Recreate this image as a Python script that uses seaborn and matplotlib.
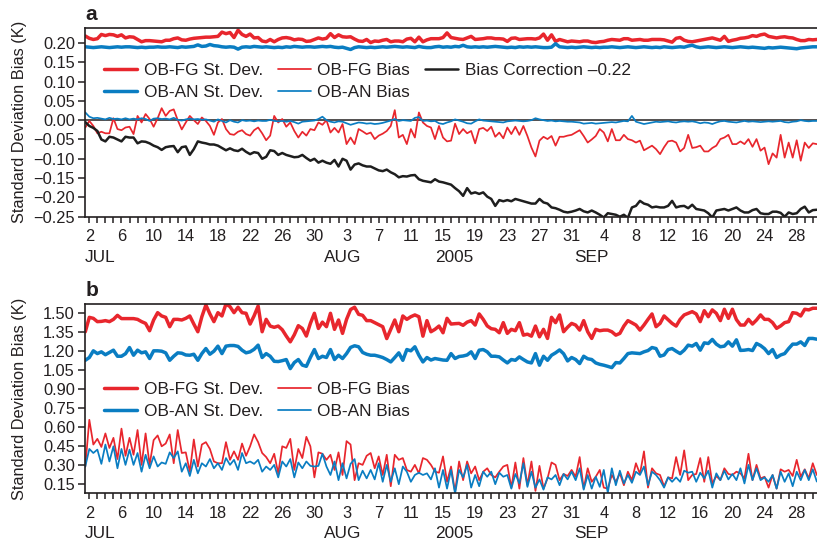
import numpy as np
import pandas as pd
import matplotlib
matplotlib.use("Agg")
import matplotlib.pyplot as plt
import matplotlib.dates as mdates
from matplotlib.ticker import FixedLocator, FuncFormatter
import seaborn as sns

# ---------------- data (12-hourly, starting 2005-07-01 12Z) ----------------
start_time = "2005-07-01 12:00"
end_time = "2005-09-30 12:00"

# panel a
fg_std_a = [
    0.218, 0.212, 0.209, 0.211, 0.222, 0.219, 0.222, 0.221, 0.217, 0.221,
    0.213, 0.216, 0.215, 0.209, 0.203, 0.206, 0.206, 0.205, 0.204, 0.203,
    0.207, 0.207, 0.211, 0.213, 0.208, 0.207, 0.210, 0.212, 0.213, 0.214,
    0.215, 0.215, 0.216, 0.217, 0.228, 0.224, 0.227, 0.214, 0.233, 0.222,
    0.217, 0.223, 0.213, 0.214, 0.205, 0.203, 0.209, 0.203, 0.209, 0.213,
    0.214, 0.212, 0.208, 0.210, 0.209, 0.204, 0.205, 0.209, 0.213, 0.210,
    0.212, 0.224, 0.214, 0.221, 0.216, 0.215, 0.216, 0.210, 0.205, 0.204,
    0.209, 0.201, 0.205, 0.204, 0.207, 0.209, 0.203, 0.205, 0.205, 0.203,
    0.210, 0.212, 0.203, 0.215, 0.203, 0.208, 0.211, 0.211, 0.211, 0.214,
    0.226, 0.214, 0.212, 0.210, 0.209, 0.213, 0.217, 0.209, 0.210, 0.211,
    0.213, 0.213, 0.211, 0.211, 0.210, 0.204, 0.212, 0.213, 0.209, 0.210,
    0.211, 0.211, 0.210, 0.213, 0.223, 0.207, 0.221, 0.204, 0.209, 0.206,
    0.203, 0.205, 0.204, 0.203, 0.205, 0.205, 0.202, 0.201, 0.203, 0.204,
    0.207, 0.209, 0.208, 0.207, 0.211, 0.211, 0.207, 0.208, 0.209, 0.207,
    0.207, 0.209, 0.209, 0.209, 0.208, 0.205, 0.202, 0.212, 0.214, 0.207,
    0.204, 0.203, 0.205, 0.207, 0.209, 0.211, 0.213, 0.210, 0.207, 0.217,
    0.204, 0.207, 0.209, 0.212, 0.213, 0.215, 0.219, 0.217, 0.221, 0.223,
    0.217, 0.215, 0.213, 0.215, 0.216, 0.214, 0.213, 0.209, 0.206, 0.206,
    0.209, 0.208, 0.209,
]
an_std_a = [
    0.190, 0.189, 0.188, 0.189, 0.190, 0.189, 0.188, 0.189, 0.190, 0.189,
    0.190, 0.190, 0.189, 0.188, 0.189, 0.188, 0.189, 0.189, 0.190, 0.189,
    0.189, 0.190, 0.189, 0.188, 0.190, 0.189, 0.190, 0.191, 0.195, 0.191,
    0.192, 0.196, 0.193, 0.192, 0.190, 0.189, 0.190, 0.189, 0.184, 0.189,
    0.190, 0.189, 0.191, 0.190, 0.189, 0.190, 0.189, 0.188, 0.189, 0.188,
    0.190, 0.189, 0.191, 0.190, 0.189, 0.190, 0.190, 0.189, 0.190, 0.191,
    0.190, 0.191, 0.189, 0.188, 0.189, 0.186, 0.183, 0.188, 0.190, 0.189,
    0.188, 0.189, 0.188, 0.189, 0.190, 0.189, 0.190, 0.191, 0.190, 0.189,
    0.190, 0.189, 0.188, 0.191, 0.189, 0.188, 0.188, 0.190, 0.191, 0.189,
    0.190, 0.189, 0.191, 0.190, 0.194, 0.190, 0.189, 0.190, 0.189, 0.190,
    0.189, 0.190, 0.191, 0.190, 0.189, 0.188, 0.189, 0.188, 0.190, 0.189,
    0.190, 0.189, 0.190, 0.189, 0.188, 0.188, 0.189, 0.198, 0.190, 0.189,
    0.188, 0.189, 0.188, 0.189, 0.190, 0.189, 0.188, 0.189, 0.188, 0.189,
    0.189, 0.190, 0.189, 0.188, 0.189, 0.190, 0.189, 0.188, 0.189, 0.190,
    0.189, 0.188, 0.189, 0.188, 0.190, 0.189, 0.188, 0.189, 0.190, 0.189,
    0.192, 0.194, 0.190, 0.188, 0.189, 0.190, 0.189, 0.188, 0.189, 0.190,
    0.189, 0.188, 0.189, 0.190, 0.189, 0.188, 0.189, 0.188, 0.187, 0.186,
    0.188, 0.187, 0.188, 0.189, 0.188, 0.187, 0.186, 0.185, 0.187, 0.188,
    0.189, 0.190, 0.190,
]
fg_bias_a = [
    -0.019, -0.002, -0.015, -0.034, -0.030, -0.034, -0.034, 0.005, -0.023, -0.026,
    -0.019, -0.017, -0.036, 0.011, -0.006, 0.016, 0.003, -0.017, 0.005, 0.031,
    0.011, 0.024, 0.028, 0.000, -0.024, -0.006, 0.011, 0.000, -0.010, 0.007,
    -0.002, -0.015, -0.038, -0.006, 0.003, -0.023, -0.036, -0.038, -0.030, -0.026,
    -0.036, -0.040, -0.026, -0.019, -0.034, -0.052, -0.040, 0.011, -0.006, 0.003,
    -0.017, -0.006, -0.028, -0.045, -0.030, -0.040, -0.023, -0.026, -0.006, -0.012,
    0.000, -0.032, -0.020, -0.032, -0.010, -0.062, -0.045, -0.062, -0.023, -0.029,
    -0.036, -0.032, -0.049, -0.040, -0.035, -0.028, -0.015, 0.026, -0.045, -0.038,
    -0.062, -0.023, -0.045, 0.020, -0.006, -0.015, -0.019, -0.049, -0.015, -0.045,
    -0.055, -0.053, -0.009, -0.036, -0.023, -0.034, -0.028, -0.060, -0.023, -0.020,
    -0.028, -0.017, -0.043, -0.032, -0.047, -0.019, -0.036, -0.017, -0.038, -0.015,
    -0.041, -0.071, -0.094, -0.053, -0.043, -0.049, -0.041, -0.066, -0.043, -0.043,
    -0.040, -0.038, -0.032, -0.026, -0.041, -0.058, -0.050, -0.041, -0.023, -0.032,
    -0.055, -0.023, -0.052, -0.052, -0.038, -0.049, -0.052, -0.058, -0.053, -0.078,
    -0.072, -0.066, -0.075, -0.088, -0.070, -0.055, -0.053, -0.058, -0.081, -0.072,
    -0.038, -0.072, -0.070, -0.066, -0.081, -0.081, -0.072, -0.066, -0.049, -0.045,
    -0.038, -0.062, -0.062, -0.055, -0.062, -0.049, -0.069, -0.049, -0.079, -0.071,
    -0.114, -0.086, -0.097, -0.038, -0.097, -0.058, -0.097, -0.052, -0.105, -0.058,
    -0.072, -0.060, -0.062,
]
an_bias_a = [
    0.020, 0.009, 0.005, 0.006, 0.004, 0.002, 0.006, 0.003, 0.004, 0.002,
    0.005, 0.002, 0.004, 0.002, 0.005, 0.003, -0.002, 0.004, 0.005, 0.003,
    0.004, 0.002, 0.006, 0.001, -0.001, 0.002, 0.004, 0.002, 0.003, 0.001,
    0.002, -0.001, -0.004, 0.002, -0.002, -0.006, 0.000, -0.004, -0.006, 0.000,
    -0.002, -0.001, -0.003, -0.001, -0.002, -0.002, 0.001, -0.002, -0.003, -0.002,
    -0.004, -0.002, -0.005, -0.009, -0.004, -0.003, -0.002, -0.001, 0.003, 0.009,
    0.000, -0.004, -0.006, -0.003, -0.004, -0.008, -0.012, -0.009, -0.006, -0.007,
    -0.009, -0.008, -0.010, -0.009, -0.007, -0.004, -0.001, 0.003, -0.002, 0.000,
    -0.001, -0.002, 0.006, 0.008, -0.002, -0.001, -0.003, -0.002, -0.008, -0.010,
    -0.006, -0.003, 0.002, -0.001, -0.004, -0.008, -0.009, -0.003, 0.002, -0.001,
    -0.002, -0.003, -0.004, -0.005, -0.006, -0.003, -0.002, -0.001, -0.002, -0.003,
    -0.002, 0.000, 0.005, 0.002, 0.000, -0.002, -0.001, -0.003, -0.002, -0.003,
    -0.004, -0.004, -0.005, -0.006, -0.009, -0.008, -0.007, -0.009, -0.008, -0.007,
    -0.006, -0.005, -0.006, -0.004, -0.002, -0.003, 0.011, -0.004, -0.007, -0.010,
    -0.008, -0.006, -0.004, -0.005, -0.004, -0.003, -0.005, -0.006, -0.004, -0.003,
    -0.004, -0.003, -0.005, -0.008, -0.006, -0.007, -0.010, -0.006, -0.003, -0.002,
    -0.004, -0.005, -0.006, -0.004, -0.002, -0.004, -0.003, -0.004, -0.005, -0.004,
    -0.003, -0.004, -0.003, -0.002, -0.005, -0.006, -0.004, -0.003, 0.000, -0.002,
    -0.003, -0.002, -0.002,
]
# bias correction already shifted by -0.22 (as labelled)
bias_corr_a = [
    -0.005, -0.015, -0.020, -0.028, -0.050, -0.055, -0.043, -0.045, -0.050, -0.055,
    -0.043, -0.045, -0.045, -0.060, -0.055, -0.056, -0.060, -0.066, -0.070, -0.077,
    -0.070, -0.068, -0.067, -0.083, -0.070, -0.068, -0.090, -0.075, -0.055, -0.058,
    -0.060, -0.063, -0.063, -0.066, -0.072, -0.078, -0.073, -0.078, -0.080, -0.074,
    -0.082, -0.088, -0.083, -0.085, -0.100, -0.095, -0.078, -0.080, -0.090, -0.085,
    -0.090, -0.093, -0.096, -0.095, -0.090, -0.098, -0.105, -0.100, -0.110, -0.105,
    -0.110, -0.113, -0.103, -0.120, -0.100, -0.105, -0.128, -0.115, -0.112, -0.117,
    -0.120, -0.120, -0.125, -0.130, -0.132, -0.128, -0.135, -0.140, -0.148, -0.145,
    -0.146, -0.143, -0.142, -0.153, -0.157, -0.159, -0.161, -0.153, -0.159, -0.161,
    -0.164, -0.167, -0.176, -0.184, -0.196, -0.176, -0.190, -0.187, -0.191, -0.187,
    -0.198, -0.204, -0.222, -0.207, -0.210, -0.207, -0.210, -0.204, -0.207, -0.210,
    -0.213, -0.216, -0.216, -0.204, -0.213, -0.216, -0.226, -0.228, -0.232, -0.237,
    -0.239, -0.237, -0.234, -0.230, -0.236, -0.239, -0.234, -0.239, -0.245, -0.252,
    -0.241, -0.243, -0.245, -0.250, -0.245, -0.253, -0.226, -0.222, -0.209, -0.216,
    -0.219, -0.226, -0.224, -0.226, -0.226, -0.222, -0.209, -0.226, -0.223, -0.222,
    -0.228, -0.219, -0.230, -0.232, -0.234, -0.241, -0.252, -0.234, -0.232, -0.230,
    -0.234, -0.230, -0.226, -0.234, -0.239, -0.239, -0.233, -0.230, -0.241, -0.243,
    -0.243, -0.237, -0.237, -0.240, -0.250, -0.239, -0.243, -0.241, -0.230, -0.224,
    -0.239, -0.233, -0.232,
]

# panel b
fg_std_b = [
    1.354, 1.468, 1.460, 1.434, 1.436, 1.442, 1.434, 1.452, 1.484, 1.458,
    1.458, 1.458, 1.458, 1.452, 1.434, 1.420, 1.362, 1.447, 1.505, 1.479,
    1.468, 1.394, 1.452, 1.452, 1.447, 1.460, 1.479, 1.415, 1.354, 1.473,
    1.566, 1.495, 1.434, 1.505, 1.479, 1.574, 1.553, 1.505, 1.548, 1.505,
    1.500, 1.415, 1.480, 1.558, 1.354, 1.452, 1.399, 1.389, 1.399, 1.370,
    1.320, 1.274, 1.330, 1.402, 1.380, 1.320, 1.420, 1.500, 1.380, 1.430,
    1.394, 1.500, 1.373, 1.447, 1.341, 1.452, 1.530, 1.548, 1.492, 1.484,
    1.442, 1.442, 1.426, 1.410, 1.394, 1.300, 1.373, 1.447, 1.354, 1.479,
    1.452, 1.473, 1.487, 1.473, 1.319, 1.442, 1.354, 1.373, 1.399, 1.346,
    1.460, 1.415, 1.418, 1.420, 1.405, 1.430, 1.442, 1.407, 1.495, 1.452,
    1.400, 1.378, 1.373, 1.346, 1.426, 1.341, 1.373, 1.362, 1.426, 1.327,
    1.335, 1.319, 1.399, 1.314, 1.373, 1.301, 1.468, 1.426, 1.487, 1.354,
    1.390, 1.420, 1.407, 1.367, 1.442, 1.354, 1.301, 1.373, 1.362, 1.367,
    1.367, 1.354, 1.327, 1.341, 1.399, 1.442, 1.425, 1.407, 1.367, 1.407,
    1.452, 1.495, 1.394, 1.420, 1.479, 1.450, 1.420, 1.399, 1.452, 1.487,
    1.500, 1.513, 1.495, 1.434, 1.521, 1.473, 1.527, 1.500, 1.442, 1.532,
    1.460, 1.532, 1.450, 1.407, 1.407, 1.452, 1.415, 1.447, 1.487, 1.452,
    1.452, 1.426, 1.381, 1.400, 1.426, 1.434, 1.505, 1.500, 1.479, 1.532,
    1.527, 1.540, 1.540,
]
an_std_b = [
    1.128, 1.150, 1.203, 1.181, 1.195, 1.172, 1.190, 1.208, 1.160, 1.160,
    1.180, 1.229, 1.168, 1.208, 1.187, 1.195, 1.142, 1.203, 1.203, 1.200,
    1.187, 1.128, 1.160, 1.187, 1.184, 1.170, 1.168, 1.176, 1.128, 1.181,
    1.221, 1.176, 1.200, 1.240, 1.181, 1.240, 1.245, 1.245, 1.238, 1.208,
    1.187, 1.195, 1.215, 1.248, 1.150, 1.181, 1.160, 1.120, 1.118, 1.125,
    1.134, 1.062, 1.110, 1.134, 1.090, 1.080, 1.150, 1.213, 1.142, 1.160,
    1.150, 1.213, 1.134, 1.168, 1.142, 1.181, 1.230, 1.243, 1.235, 1.190,
    1.176, 1.168, 1.168, 1.160, 1.150, 1.134, 1.115, 1.150, 1.187, 1.128,
    1.213, 1.203, 1.235, 1.168, 1.115, 1.150, 1.130, 1.142, 1.136, 1.130,
    1.128, 1.181, 1.142, 1.158, 1.162, 1.170, 1.195, 1.142, 1.208, 1.213,
    1.195, 1.160, 1.160, 1.155, 1.130, 1.107, 1.134, 1.128, 1.155, 1.134,
    1.115, 1.107, 1.181, 1.089, 1.160, 1.128, 1.168, 1.187, 1.210, 1.180,
    1.123, 1.150, 1.134, 1.102, 1.160, 1.140, 1.134, 1.107, 1.096, 1.089,
    1.080, 1.070, 1.110, 1.107, 1.142, 1.181, 1.187, 1.184, 1.181, 1.195,
    1.205, 1.229, 1.221, 1.160, 1.170, 1.213, 1.221, 1.200, 1.181, 1.208,
    1.248, 1.240, 1.261, 1.208, 1.266, 1.261, 1.293, 1.256, 1.235, 1.240,
    1.274, 1.240, 1.290, 1.206, 1.208, 1.213, 1.205, 1.261, 1.245, 1.220,
    1.181, 1.213, 1.150, 1.170, 1.181, 1.221, 1.256, 1.256, 1.274, 1.245,
    1.301, 1.301, 1.295,
]
fg_bias_b = [
    0.287, 0.657, 0.461, 0.506, 0.442, 0.549, 0.434, 0.514, 0.346, 0.587,
    0.372, 0.514, 0.380, 0.576, 0.300, 0.549, 0.300, 0.496, 0.533, 0.447,
    0.469, 0.541, 0.313, 0.576, 0.394, 0.399, 0.246, 0.501, 0.287, 0.461,
    0.480, 0.426, 0.327, 0.313, 0.313, 0.480, 0.340, 0.407, 0.340, 0.469,
    0.372, 0.447, 0.541, 0.480, 0.394, 0.362, 0.313, 0.388, 0.233, 0.447,
    0.434, 0.506, 0.260, 0.426, 0.354, 0.522, 0.447, 0.201, 0.399, 0.388,
    0.340, 0.380, 0.260, 0.399, 0.220, 0.488, 0.461, 0.179, 0.313, 0.300,
    0.372, 0.394, 0.273, 0.367, 0.220, 0.380, 0.131, 0.380, 0.340, 0.354,
    0.260, 0.246, 0.300, 0.233, 0.354, 0.340, 0.300, 0.246, 0.238, 0.367,
    0.166, 0.287, 0.086, 0.327, 0.179, 0.327, 0.233, 0.287, 0.179, 0.246,
    0.273, 0.220, 0.201, 0.246, 0.287, 0.300, 0.120, 0.319, 0.112, 0.354,
    0.139, 0.327, 0.094, 0.292, 0.112, 0.193, 0.319, 0.300, 0.179, 0.228,
    0.212, 0.260, 0.206, 0.362, 0.112, 0.273, 0.166, 0.206, 0.260, 0.120,
    0.112, 0.220, 0.166, 0.233, 0.139, 0.246, 0.179, 0.313, 0.228, 0.407,
    0.120, 0.273, 0.233, 0.220, 0.131, 0.201, 0.193, 0.362, 0.220, 0.415,
    0.179, 0.220, 0.228, 0.354, 0.166, 0.362, 0.153, 0.212, 0.179, 0.273,
    0.228, 0.220, 0.246, 0.233, 0.193, 0.388, 0.179, 0.300, 0.193, 0.206,
    0.120, 0.220, 0.112, 0.265, 0.246, 0.260, 0.212, 0.340, 0.206, 0.265,
    0.193, 0.313, 0.220,
]
an_bias_b = [
    0.287, 0.426, 0.394, 0.421, 0.308, 0.461, 0.327, 0.447, 0.273, 0.426,
    0.300, 0.421, 0.300, 0.394, 0.246, 0.380, 0.273, 0.367, 0.287, 0.319,
    0.308, 0.399, 0.354, 0.407, 0.246, 0.313, 0.212, 0.340, 0.233, 0.313,
    0.287, 0.346, 0.273, 0.313, 0.260, 0.354, 0.300, 0.340, 0.260, 0.394,
    0.313, 0.327, 0.308, 0.340, 0.246, 0.287, 0.260, 0.300, 0.201, 0.327,
    0.287, 0.346, 0.201, 0.319, 0.273, 0.327, 0.292, 0.287, 0.292, 0.388,
    0.287, 0.220, 0.327, 0.179, 0.313, 0.193, 0.308, 0.346, 0.179, 0.254,
    0.193, 0.260, 0.185, 0.313, 0.166, 0.300, 0.166, 0.273, 0.147, 0.287,
    0.246, 0.166, 0.220, 0.238, 0.220, 0.233, 0.185, 0.273, 0.120, 0.260,
    0.112, 0.260, 0.072, 0.260, 0.201, 0.300, 0.120, 0.220, 0.131, 0.246,
    0.206, 0.246, 0.147, 0.238, 0.206, 0.220, 0.112, 0.228, 0.153, 0.313,
    0.126, 0.246, 0.120, 0.185, 0.104, 0.201, 0.185, 0.220, 0.139, 0.228,
    0.185, 0.246, 0.179, 0.273, 0.104, 0.220, 0.112, 0.206, 0.126, 0.260,
    0.078, 0.273, 0.139, 0.254, 0.153, 0.220, 0.158, 0.246, 0.220, 0.287,
    0.139, 0.246, 0.220, 0.179, 0.120, 0.201, 0.166, 0.201, 0.166, 0.254,
    0.238, 0.246, 0.166, 0.238, 0.193, 0.254, 0.120, 0.233, 0.179, 0.254,
    0.185, 0.228, 0.179, 0.273, 0.153, 0.300, 0.179, 0.273, 0.179, 0.201,
    0.166, 0.220, 0.112, 0.246, 0.166, 0.233, 0.131, 0.246, 0.179, 0.260,
    0.179, 0.265, 0.168,
]

labels_std = ["OB-FG St. Dev.", "OB-AN St. Dev."]
labels_bias = ["OB-FG Bias", "OB-AN Bias"]
label_bc = "Bias Correction \u20130.22"
ylabel = "Standard Deviation Bias (K)"
yticks_a = [0.20, 0.15, 0.10, 0.05, 0.00, -0.05, -0.10, -0.15, -0.20, -0.25]
yticks_b = [1.50, 1.35, 1.20, 1.05, 0.90, 0.75, 0.60, 0.45, 0.30, 0.15]
xtick_dates = pd.date_range("2005-07-02", "2005-09-28", freq="4D")
xtick_labels = ["2", "6", "10", "14", "18", "22", "26", "30", "3", "7", "11", "15",
                "19", "23", "27", "31", "4", "8", "12", "16", "20", "24", "28"]
month_labels = ["JUL", "AUG", "2005", "SEP"]
month_label_dates = ["2005-07-03 08:00", "2005-08-02 13:00",
                     "2005-08-16 11:00", "2005-09-02 12:00"]

# ---------------- style ----------------
sns.set_style("ticks")
plt.rcParams["font.family"] = ["Liberation Sans", "DejaVu Sans"]
plt.rcParams["axes.unicode_minus"] = True

RED = "#E8262D"
BLUE = "#0A7DC2"
BLACK = "#1E1E1E"
INK = "#231F20"

W, H = 817, 543
fig = plt.figure(figsize=(W / 100, H / 100), dpi=100)

left = 85.3 / W
width = 731.5 / W
ax_a = fig.add_axes([left, 1 - 216.7 / H, width, 189.2 / H])
ax_b = fig.add_axes([left, 1 - 493.3 / H, width, 189.6 / H])


def times_for(arr):
    return pd.date_range(start_time, periods=len(arr), freq="12h")


def draw(ax, arr, color, lw, label, z=2):
    sns.lineplot(x=times_for(arr), y=np.asarray(arr), ax=ax, color=color,
                 linewidth=lw, label=label, legend=False, zorder=z)
    return ax.get_lines()[-1]


TH, TN, TB = 2.5, 1.25, 1.8

# panel a
ax_a.axhline(0, color=INK, lw=1.1, zorder=1.5)
h1 = draw(ax_a, fg_std_a, RED, TH, labels_std[0])
h2 = draw(ax_a, an_std_a, BLUE, TH, labels_std[1])
h3 = draw(ax_a, fg_bias_a, RED, TN, labels_bias[0])
h4 = draw(ax_a, an_bias_a, BLUE, TN, labels_bias[1])
h5 = draw(ax_a, bias_corr_a, BLACK, TB, label_bc)

# panel b
g1 = draw(ax_b, fg_std_b, RED, TH, labels_std[0])
g2 = draw(ax_b, an_std_b, BLUE, TH, labels_std[1])
g3 = draw(ax_b, fg_bias_b, RED, TN, labels_bias[0])
g4 = draw(ax_b, an_bias_b, BLUE, TN, labels_bias[1])

xmin = pd.Timestamp(start_time)
xmax = pd.Timestamp(end_time)


def fmt(v, p):
    s = f"{v:.2f}"
    if s == "-0.00":
        s = "0.00"
    return s.replace("-", "\u2212")


for ax, yt, ylim, top_lab in [(ax_a, yticks_a, (-0.25, 0.24), "a"),
                              (ax_b, yticks_b, (0.075, 1.576), "b")]:
    ax.set_xlim(xmin, xmax)
    ax.set_ylim(*ylim)
    ax.yaxis.set_major_locator(FixedLocator(yt))
    ax.yaxis.set_major_formatter(FuncFormatter(fmt))
    ax.set_xticks(mdates.date2num(xtick_dates))
    ax.set_xticklabels(xtick_labels)
    ax.xaxis.set_minor_locator(mdates.DayLocator())
    ax.tick_params(axis="x", which="both", direction="out", length=4.2, width=1.1,
                   color=INK, pad=5.0, labelsize=11.8, labelcolor=INK)
    ax.tick_params(axis="y", which="both", direction="out", length=5.0, width=1.1,
                   color=INK, pad=2.5, labelsize=11.8, labelcolor=INK)
    for s in ["top", "left", "bottom"]:
        ax.spines[s].set_visible(True)
        ax.spines[s].set_color(INK)
        ax.spines[s].set_linewidth(1.2)
    ax.spines["right"].set_visible(False)
    ax.set_xlabel("")
    ax.set_ylabel(ylabel, fontsize=11.8, color=INK)
    ax.yaxis.set_label_coords(-0.0801, 0.5)
    for lab, d in zip(month_labels, month_label_dates):
        ax.text(mdates.date2num(pd.Timestamp(d)), -0.238, lab,
                transform=ax.get_xaxis_transform(), ha="center", va="baseline",
                fontsize=12.4, color=INK)
    ax.text(0.0, 1.04, top_lab, transform=ax.transAxes, ha="left", va="baseline",
            fontsize=15, fontweight="bold", color=INK)

leg_kw = dict(loc="upper left", frameon=False, fontsize=12.4,
              handlelength=1.92, handletextpad=0.38, columnspacing=0.87,
              labelspacing=0.40, borderpad=0, borderaxespad=0,
              labelcolor=INK)
ax_a.legend([h1, h2, h3, h4, h5],
            [labels_std[0], labels_std[1], labels_bias[0], labels_bias[1], label_bc],
            ncol=3, bbox_to_anchor=(0.0256, 0.814), **leg_kw)
ax_b.legend([g1, g2, g3, g4],
            [labels_std[0], labels_std[1], labels_bias[0], labels_bias[1]],
            ncol=2, bbox_to_anchor=(0.0256, 0.5886), **leg_kw)

fig.savefig("out.png", dpi=100)
